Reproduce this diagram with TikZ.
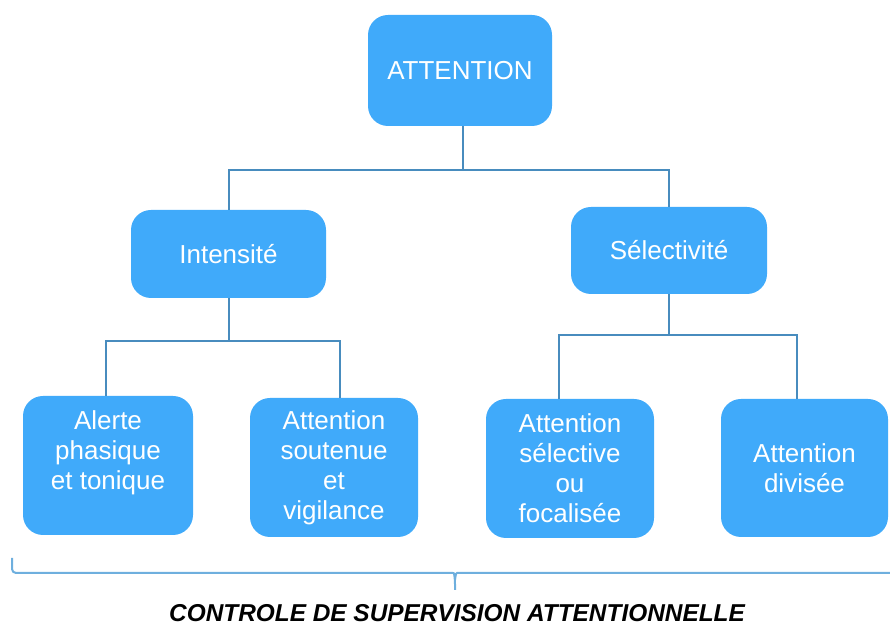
\documentclass[tikz,border=0pt]{standalone}
\usepackage{fontspec}
\setmainfont{Liberation Sans}
\definecolor{boite}{RGB}{64, 170, 250}
\definecolor{lien}{RGB}{72, 140, 190}
\definecolor{accolade}{RGB}{110, 175, 222}

\begin{document}
\begin{tikzpicture}[x=0.5pt,y=-0.5pt,
		boite/.style={fill=boite,text=white,rounded corners=10pt,align=center,inner sep=0pt,font=\fontsize{13}{15}\selectfont},
		lien/.style={draw=lien,line width=1pt}]
			\useasboundingbox (0,0) rectangle (890,624);
			\node[boite,minimum width=92pt,minimum height=55.5pt] (att) at (460,70.5) {ATTENTION};
			\node[boite,minimum width=97.5pt,minimum height=44pt] (int) at (228.5,254) {Intensité};
			\node[boite,minimum width=98pt,minimum height=43.5pt] (sel) at (669,250.5) {Sélectivité};
			\node[boite,minimum width=85pt,minimum height=69.5pt] (alerte) at (108,465.5) {Alerte\\phasique\\et tonique\\\mbox{}};
			\node[boite,minimum width=84pt,minimum height=69.5pt] (sout) at (334,467.5) {Attention\\soutenue\\et\\vigilance};
			\node[boite,minimum width=84pt,minimum height=69.5pt] (selec) at (570,468.5) {Attention\\sélective\\ou\\focalisée};
			\node[boite,minimum width=83.5pt,minimum height=69pt] (div) at (804.5,468) {Attention\\divisée};
			% liens de l'arbre
			\draw[lien] ([xshift=1.5pt]att.south) -- ++(0,44) -| (int.north);
			\draw[lien] ([xshift=1.5pt]att.south) -- ++(0,44) -| (sel.north);
			\draw[lien] (int.south) -- ++(0,43) -| ([xshift=-1pt]alerte.north);
			\draw[lien] (int.south) -- ++(0,43) -| ([xshift=3pt]sout.north);
			\draw[lien] (sel.south) -- ++(0,41) -| ([xshift=-5.5pt]selec.north);
			\draw[lien] (sel.south) -- ++(0,41) -| ([xshift=-4pt]div.north);
			% l'accolade du bas
			\coordinate (pointe) at (455,590);
			\draw[draw=accolade,line width=1pt,rounded corners=2pt] (12,558) |- (449,573) .. controls (454,573) .. (455,580) -- (pointe);
			\draw[draw=accolade,line width=1pt,rounded corners=2pt] (455,580) .. controls (456,573) .. (461,573) -- (898,573) -- (898,558);
			\node[inner sep=0pt,font=\fontsize{12.2}{14}\selectfont\bfseries\itshape] (controle) at (457,613) {CONTROLE DE SUPERVISION ATTENTIONNELLE};
\end{tikzpicture}
\end{document}
